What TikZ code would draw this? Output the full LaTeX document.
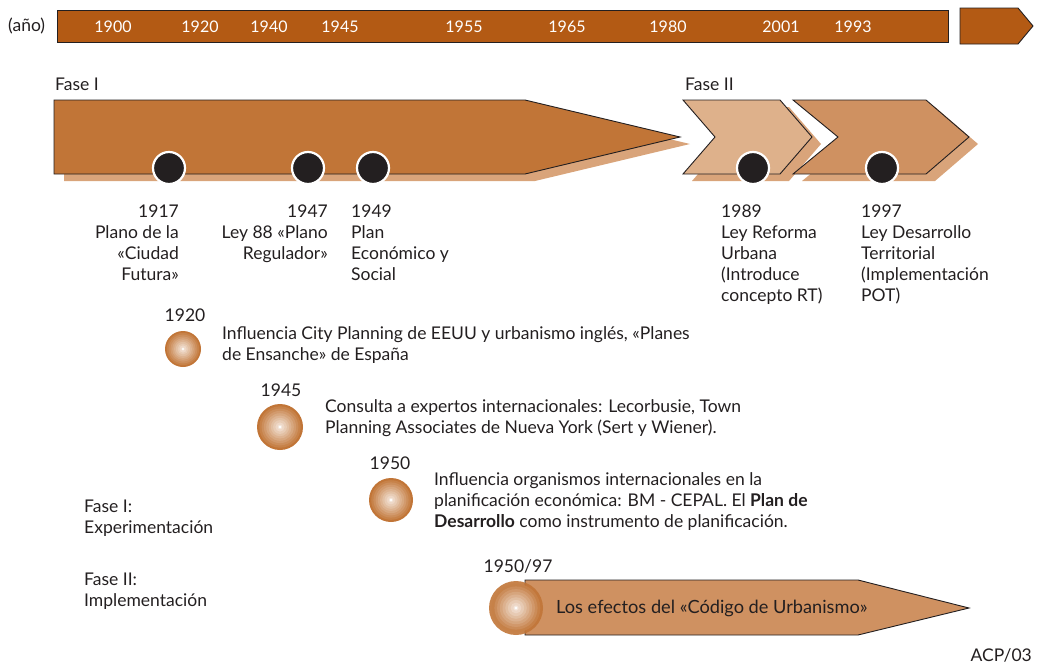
\documentclass[tikz,border=0pt]{standalone}
\usepackage{fontspec}
\setmainfont{Lato}
\definecolor{txt}{HTML}{231F20}
\definecolor{topbrown}{HTML}{B35A14}
\definecolor{faseone}{HTML}{C17537}
\definecolor{shadowc}{HTML}{D9A47A}
\definecolor{chevlight}{HTML}{DEB18B}
\definecolor{chevmid}{HTML}{CF9161}
\newcommand{\bodyfont}{\fontsize{17.5}{21}\selectfont}
\newcommand{\yearfont}{\fontsize{16}{18}\selectfont}
\tikzset{
  lbl/.style={inner sep=0pt, font=\bodyfont, text=txt, align=left},
  rlbl/.style={inner sep=0pt, font=\bodyfont, text=txt, align=right},
  yr/.style={inner sep=0pt, font=\yearfont, text=white},
  shape outline/.style={draw=txt, line width=0.9pt, line join=miter},
  dot/.style={circle, fill=txt, draw=white, line width=2.2pt, minimum size=32pt, inner sep=0pt},
}
\newcommand{\ringcircle}[3]{% center x, center y, radius
  \foreach \i in {0,...,9}{
    \pgfmathsetmacro{\rr}{#3*(1-\i/10)}
    \pgfmathsetmacro{\pc}{100-\i*9}
    \fill[faseone!\pc!white] (#1,#2) circle[radius=\rr];
  }
  \fill[white] (#1,#2) circle[radius=#3*0.06];
}
\begin{document}
\begin{tikzpicture}[x=1pt,y=-1pt]
\useasboundingbox (0,0) rectangle (1041,664);
% top bar
\node[inner sep=0, font=\bodyfont, text=txt, anchor=west] (ano) at (8,26) {(año)};
\draw[shape outline, fill=topbrown] (57,10) rectangle (948,42);
\draw[shape outline, fill=topbrown] (960,8) -- (1018,8) -- (1033,26) -- (1018,44) -- (960,44) -- cycle;
\foreach \x/\t in {113/1900,200/1920,269/1940,340/1945,464/1955,567/1965,668/1980,781/2001,853/1993}
  \node[yr] (y\t) at (\x,27) {\t};

% Fase labels
\node[lbl, anchor=north west] (f1) at (55,78) {Fase I};
\node[lbl, anchor=north west] (f2) at (685,78) {Fase II};

% shadows
\fill[shadowc] (64,107) -- (535,107) -- (690,144) -- (535,181) -- (64,181) -- cycle;
\fill[shadowc] (692,107) -- (789,107) -- (821,144) -- (789,181) -- (692,181) -- (724,144) -- cycle;
\fill[shadowc] (802,107) -- (935,107) -- (978,144) -- (935,181) -- (802,181) -- (847,144) -- cycle;
% Fase I arrow
\draw[shape outline, fill=faseone] (54,100) -- (525,100) -- (680,137) -- (525,174) -- (54,174) -- cycle;
% chevrons
\draw[shape outline, fill=chevlight] (683,100) -- (780,100) -- (812,137) -- (780,174) -- (683,174) -- (715,137) -- cycle;
\draw[shape outline, fill=chevmid] (793,100) -- (926,100) -- (969,137) -- (926,174) -- (793,174) -- (838,137) -- cycle;

% black dots
\node[dot] (d1917) at (169,168) {};
\node[dot] (d1947) at (308,168) {};
\node[dot] (d1949) at (373,168) {};
\node[dot] (d1989) at (753,168) {};
\node[dot] (d1997) at (882,168) {};

% event labels
\node[rlbl, anchor=north east] (t1917) at (179,205) {1917\\Plano de la\\«Ciudad\\Futura»};
\node[rlbl, anchor=north east] (t1947) at (328,205) {1947\\Ley 88 «Plano\\Regulador»};
\node[lbl, anchor=north west] (t1949) at (351,205) {1949\\Plan\\Económico y\\Social};
\node[lbl, anchor=north west] (t1989) at (721,205) {1989\\Ley Reforma\\Urbana\\(Introduce\\concepto RT)};
\node[lbl, anchor=north west] (t1997) at (861,205) {1997\\Ley Desarrollo\\Territorial\\(Implementación\\POT)};

% influence rows
\ringcircle{183}{349}{18}
\node[lbl, anchor=north] (y1920l) at (185,309) {1920};
\node[lbl, anchor=north west] (i1920) at (222,326) {Influencia City Planning de EEUU y urbanismo inglés, «Planes\\de Ensanche» de España};

\ringcircle{280}{427}{23}
\node[lbl, anchor=north] (y1945l) at (281,384) {1945};
\node[lbl, anchor=north west] (i1945) at (325,399) {Consulta a expertos internacionales: Lecorbusie, Town\\Planning Associates de Nueva York (Sert y Wiener).};

\ringcircle{391}{500}{22}
\node[lbl, anchor=north] (y1950l) at (390,457) {1950};
\node[lbl, anchor=north west] (i1950) at (434,472) {Influencia organismos internacionales en la\\planificación económica: BM - CEPAL. El \textbf{Plan de}\\\textbf{Desarrollo} como instrumento de planificación.};

% phase legend
\node[lbl, anchor=north west] (leg1) at (84,500) {Fase I:\\Experimentación};
\node[lbl, anchor=north west] (leg2) at (84,573) {Fase II:\\Implementación};

% bottom arrow
\draw[shape outline, fill=chevmid] (525,580) -- (858,580) -- (969,608) -- (858,635) -- (525,635) -- cycle;
\begin{scope}[opacity=0.9]
\ringcircle{516}{608}{27}
\end{scope}
\node[lbl, anchor=north] (y1950b) at (518,559) {1950/97};
\node[lbl, anchor=west, font=\fontsize{18.2}{21}\selectfont] (efectos) at (556,608) {Los efectos del «Código de Urbanismo»};

\node[lbl, anchor=south east] (acp) at (1032,662) {ACP/03};
\end{tikzpicture}
\end{document}
